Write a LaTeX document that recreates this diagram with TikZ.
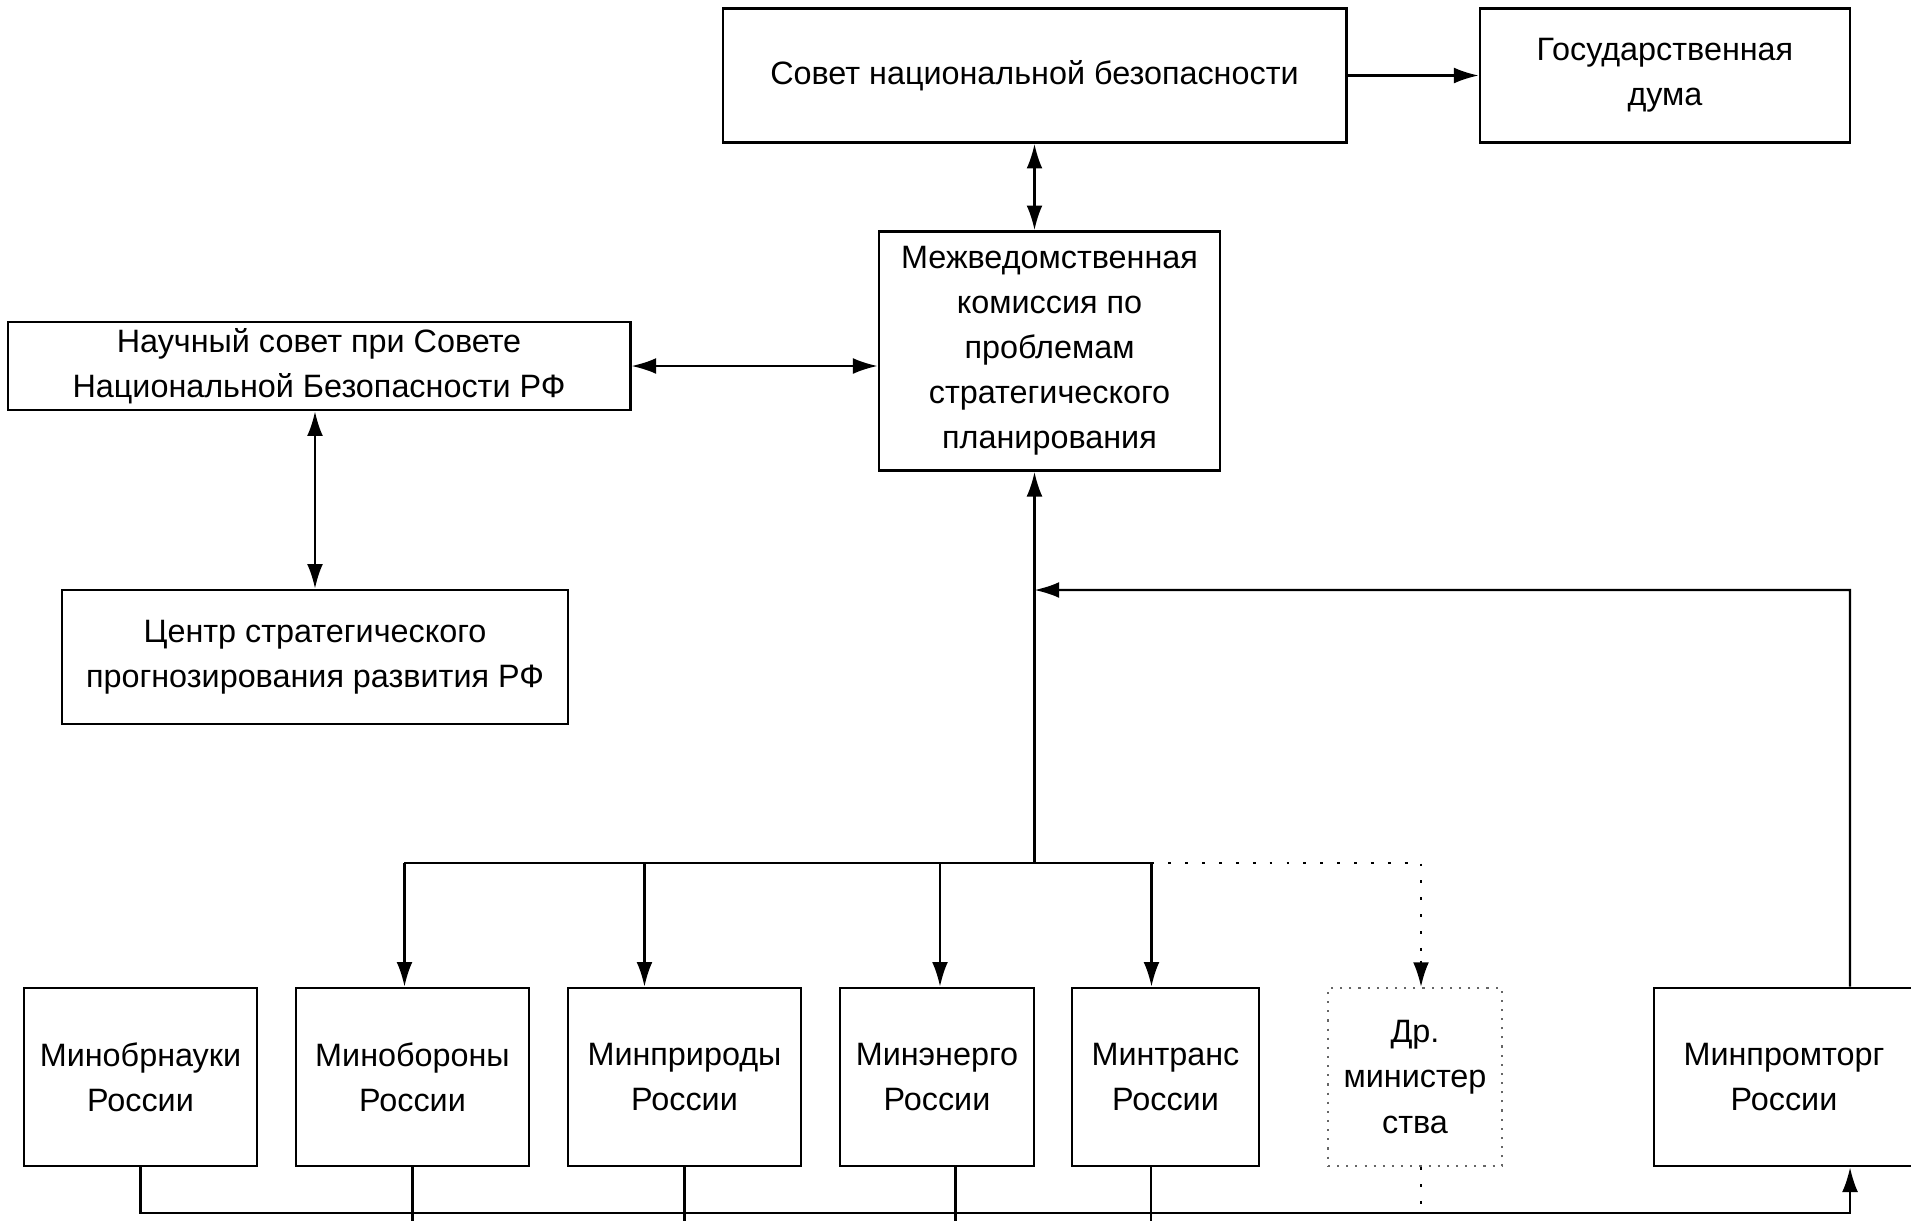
\documentclass[tikz,border=0pt]{standalone}
\usepackage{fontspec}
\setmainfont{Liberation Sans}
\usetikzlibrary{positioning,arrows.meta}

\begin{document}
\begin{tikzpicture}[x=0.01cm, y=-0.01cm, line width=0.6pt,
  >={Latex[length=7pt,width=4.5pt]},
  box/.style={draw, line width=0.75pt, align=center, inner sep=0pt,
    font=\fontsize{9.2}{12.8}\selectfont},
  minbox/.style={box, minimum height=1.78cm}]
\useasboundingbox (0, 0) rectangle (1911, 1220);

\node[box, minimum width=6.23cm, minimum height=1.34cm] (sovet) at (1034.5, 75.5) {Совет национальной безопасности};
\node[box, minimum width=3.70cm, minimum height=1.34cm] (duma) at (1665, 75.5) {Государственная\\дума};
\node[box, minimum width=3.41cm, minimum height=2.39cm] (komissiya) at (1049.5, 351) {Межведомственная\\комиссия по\\проблемам\\стратегического\\планирования};
\node[box, minimum width=6.22cm, minimum height=0.88cm] (nauchsovet) at (319, 366) {Научный совет при Совете\\Национальной Безопасности РФ};
\node[box, minimum width=5.06cm, minimum height=1.34cm] (centr) at (315, 657) {Центр стратегического\\прогнозирования развития РФ};

\node[minbox, minimum width=2.33cm] (minobrnauki) at (140.5, 1077) {Минобрнауки\\России};
\node[minbox, minimum width=2.33cm] (minoborony) at (412.5, 1077) {Минобороны\\России};
\node[minbox, minimum width=2.33cm] (minprirody) at (684.5, 1077) {Минприроды\\России};
\node[minbox, minimum width=1.94cm] (minenergo) at (937, 1077) {Минэнерго\\России};
\node[minbox, minimum width=1.87cm] (mintrans) at (1165.5, 1077) {Минтранс\\России};
\node[minbox, minimum width=1.74cm, draw=black!60, line width=0.6pt, dotted] (drministerstva) at (1415, 1077) {Др.\\министер\\ства};
\node[minbox, minimum width=2.60cm] (minpromtorg) at (1784, 1077) {Минпромторг\\России};

\draw[->] (sovet) -- (duma);
\draw[<->] (sovet.south) -- (sovet.south |- komissiya.north);
\draw[<->] (nauchsovet.east) -- (nauchsovet.east -| komissiya.west);
\draw[<->] (nauchsovet.south -| centr.north) -- (centr.north);

\coordinate (razvilka) at (1034.5, 863);
\draw[->] (razvilka) -- (razvilka |- komissiya.south);
\foreach \m/\dx in {minoborony/-0.08, minprirody/-0.4, minenergo/0.03, mintrans/-0.14, drministerstva/0.06} {
  \coordinate (\m-vhod) at ([xshift=\dx cm]\m.north);
}
\foreach \m in {minoborony, minprirody, minenergo, mintrans}
  \draw[->] (razvilka -| \m-vhod) -- (\m-vhod);
\draw (razvilka -| minoborony-vhod) -- (razvilka -| mintrans-vhod);
\draw[loosely dotted, line width=0.8pt] (razvilka -| mintrans-vhod) -- (razvilka -| drministerstva-vhod)
  -- ([yshift=7pt]drministerstva-vhod);
\draw[->] ([yshift=7.5pt]drministerstva-vhod) -- (drministerstva-vhod);

\coordinate (minpromtorg-vyhod) at ([xshift=0.66cm]minpromtorg.north);
\coordinate (minpromtorg-vhod) at ([xshift=0.66cm]minpromtorg.south);
\coordinate (povorot) at (1850, 590);
\draw[->] (minpromtorg-vyhod) -- (povorot) -- (povorot -| razvilka);

\coordinate (niz) at (0, 1213);
\draw[->] (minobrnauki.south) |- (niz -| minpromtorg-vhod) -- (minpromtorg-vhod);
\foreach \m/\dx in {minoborony/0, minprirody/0, minenergo/0.185, mintrans/-0.145}
  \draw ([xshift=\dx cm]\m.south) -- ++(0, 54);
\draw[loosely dotted, line width=0.8pt] ([xshift=0.06cm]drministerstva.south) -- ++(0, 47);
\end{tikzpicture}
\end{document}
